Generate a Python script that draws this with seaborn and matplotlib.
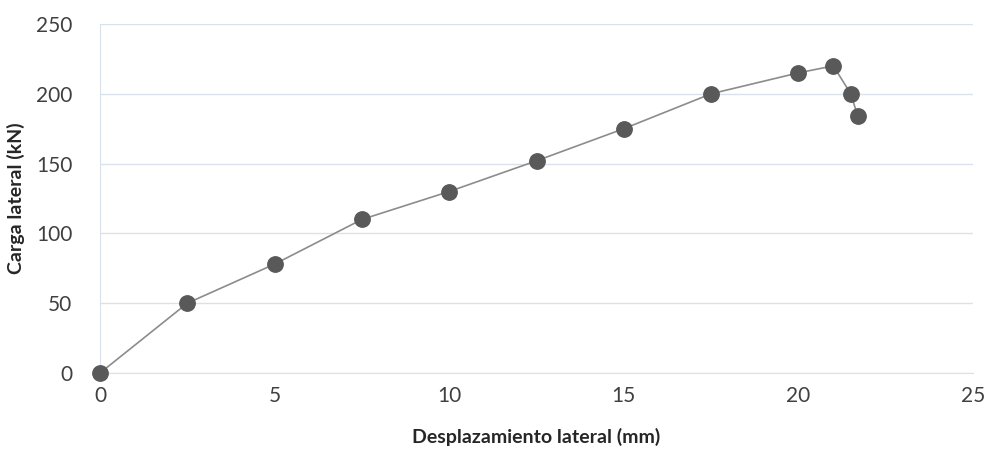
import numpy as np
import pandas as pd
import matplotlib
matplotlib.use('Agg')
import matplotlib.pyplot as plt
import seaborn as sns

# Values
desplazamiento = [0, 2.5, 5, 7.5, 10, 12.5, 15, 17.5, 20, 21, 21.5, 21.7]
carga = [0, 50, 78, 110, 130, 152, 175, 200, 215, 220, 200, 184]
x_ticks = [0, 5, 10, 15, 20, 25]
y_ticks = [0, 50, 100, 150, 200, 250]

df = pd.DataFrame({'Desplazamiento': desplazamiento, 'Carga': carga})

sns.set_style('white')
plt.rcParams['font.family'] = ['Lato', 'DejaVu Sans']

fig = plt.figure(figsize=(9.89, 4.51), dpi=100)
ax = fig.add_axes([100 / 989, 1 - 373 / 451, 873 / 989, 349 / 451])

ax.yaxis.grid(True, color='#d9e1ea', linewidth=1)
ax.set_axisbelow(True)

sns.lineplot(data=df, x='Desplazamiento', y='Carga', ax=ax, sort=False,
             color='#8c8c8c', linewidth=1.2, zorder=2)
sns.scatterplot(data=df, x='Desplazamiento', y='Carga', ax=ax,
                color='#595959', s=125, edgecolor='#595959', zorder=3,
                clip_on=False)

ax.set_xlim(0, 25)
ax.set_ylim(0, 250)
ax.set_xticks(x_ticks)
ax.set_yticks(y_ticks)
ax.tick_params(axis='both', labelsize=15, colors='#404040', length=0, pad=9)
ax.tick_params(axis='y', pad=20)

for side in ['top', 'right']:
    ax.spines[side].set_visible(False)
ax.spines['bottom'].set_color('#d9e1ea')
ax.spines['left'].set_color('#d9e1ea')

ax.set_xlabel('Desplazamiento lateral (mm)', fontsize=14, fontweight='bold',
              color='#262626', labelpad=16)
ax.set_ylabel('Carga lateral (kN)', fontsize=14, fontweight='bold',
              color='#262626', labelpad=8)

fig.savefig('out.png', dpi=100)
